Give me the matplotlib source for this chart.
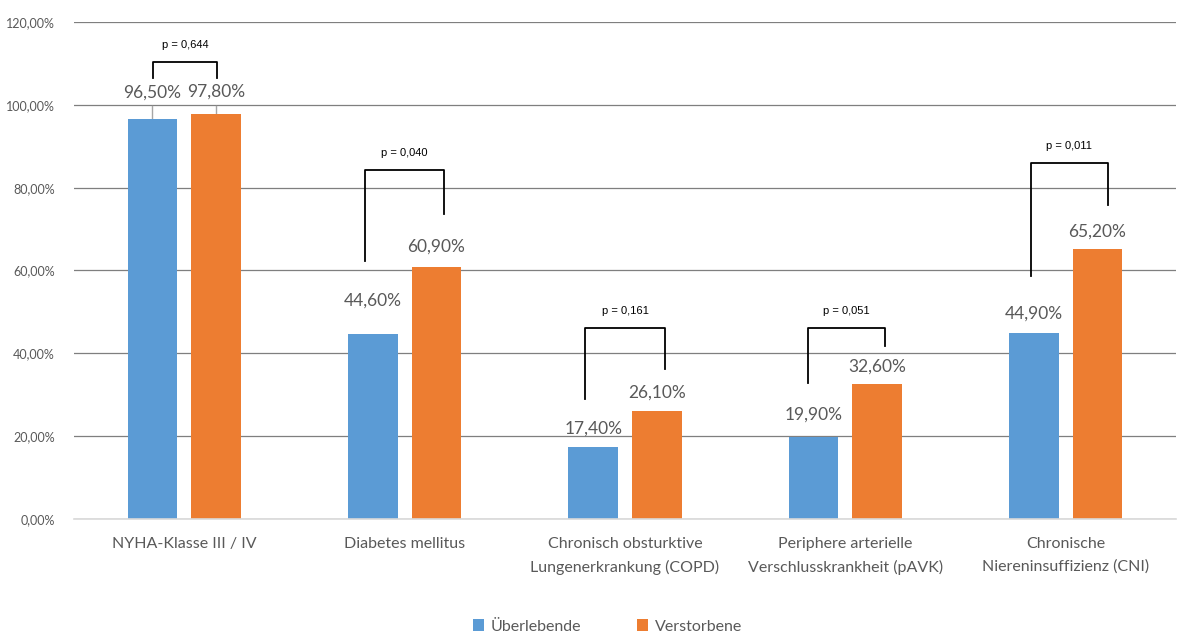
import matplotlib.pyplot as plt
import numpy as np

plt.rcParams['font.family'] = ['Lato', 'DejaVu Sans']

categories = ['NYHA-Klasse III / IV', 'Diabetes mellitus',
              'Chronisch obsturktive\nLungenerkrankung (COPD)',
              'Periphere arterielle\nVerschlusskrankheit (pAVK)',
              'Chronische\nNiereninsuffizienz (CNI)']
ueberlebende = [96.5, 44.6, 17.4, 19.9, 44.9]
verstorbene = [97.8, 60.9, 26.1, 32.6, 65.2]
p_values = ['0,644', '0,040', '0,161', '0,051', '0,011']

# bracket geometry: left/right x offset, top, left foot, right foot (in %)
brackets = [(-0.14, 0.15, 110.4, 106.5, 106.5),
            (-0.18, 0.18, 84.3, 62.4, 73.6),
            (-0.18, 0.18, 46.2, 28.9, 36.1),
            (-0.17, 0.18, 46.2, 32.8, 41.8),
            (-0.16, 0.19, 85.9, 58.7, 75.7)]
# label offsets above bar tops (pixels)
lab_off_b = [27, 34, 18, 22, 19]
lab_off_o = [22, 20, 18, 17, 17]

BLUE = '#5B9BD5'
ORANGE = '#ED7D31'
TXT = '#595959'

fig = plt.figure(figsize=(11.8, 6.34), dpi=100)
ax = fig.add_axes([0.0627, 0.1814, 0.9339, 0.7839])

x = np.arange(len(categories))
w = 0.225
off = 0.144
ax.bar(x - off, ueberlebende, w, color=BLUE, label='Überlebende', zorder=3)
ax.bar(x + off, verstorbene, w, color=ORANGE, label='Verstorbene', zorder=3)

ax.set_xlim(-0.5, len(categories) - 0.5)
ax.set_ylim(0, 120)
ax.set_yticks(np.arange(0, 121, 20))
ax.set_yticklabels([f'{v:.2f}%'.replace('.', ',') for v in np.arange(0, 121, 20)],
                   fontsize=9, color=TXT)
ax.set_xticks(x)
ax.set_xticklabels(categories, fontsize=11.5, color=TXT, linespacing=1.75)
ax.tick_params(length=0)
ax.tick_params(axis='x', pad=13)
ax.tick_params(axis='y', pad=14)
ax.yaxis.grid(True, color='#7f7f7f', linewidth=0.9, zorder=0)
for s in ['top', 'right', 'left']:
    ax.spines[s].set_visible(False)
ax.spines['bottom'].set_color('#D9D9D9')
ax.spines['bottom'].set_linewidth(1.2)
ax.spines['bottom'].set_zorder(4)

px = 120 / (0.7839 * 634)  # percent per pixel
for i in range(len(categories)):
    for xv, v, o in [(x[i] - off, ueberlebende[i], lab_off_b[i]),
                     (x[i] + off, verstorbene[i], lab_off_o[i])]:
        ax.text(xv, v + o * px, f'{v:.2f}%'.replace('.', ','), ha='center', va='center',
                fontsize=12.5, color=TXT, zorder=5)
    # leader lines for the first group
    if i == 0:
        for xv, v in [(x[i] - off, ueberlebende[i]), (x[i] + off, verstorbene[i])]:
            ax.plot([xv, xv], [v, 103.1 - 14 * px], color='#A6A6A6', lw=1, zorder=2)
    lx, rx, top, lf, rf = brackets[i]
    ax.plot([x[i] + lx, x[i] + lx, x[i] + rx, x[i] + rx], [lf, top, top, rf],
            color='black', lw=1.3, zorder=5)
    ax.text(x[i] + (lx + rx) / 2, top + 17 * px, 'p = ' + p_values[i],
            ha='center', va='center', fontsize=8, color='black',
            family=['Liberation Sans', 'DejaVu Sans'], zorder=5)

leg = fig.legend(loc='lower center', bbox_to_anchor=(0.515, -0.022), ncol=2, frameon=False,
                 fontsize=11.5, handlelength=0.7, handleheight=0.7, columnspacing=3.5,
                 handletextpad=0.4)
for t in leg.get_texts():
    t.set_color(TXT)

fig.savefig('out.png', dpi=100)
